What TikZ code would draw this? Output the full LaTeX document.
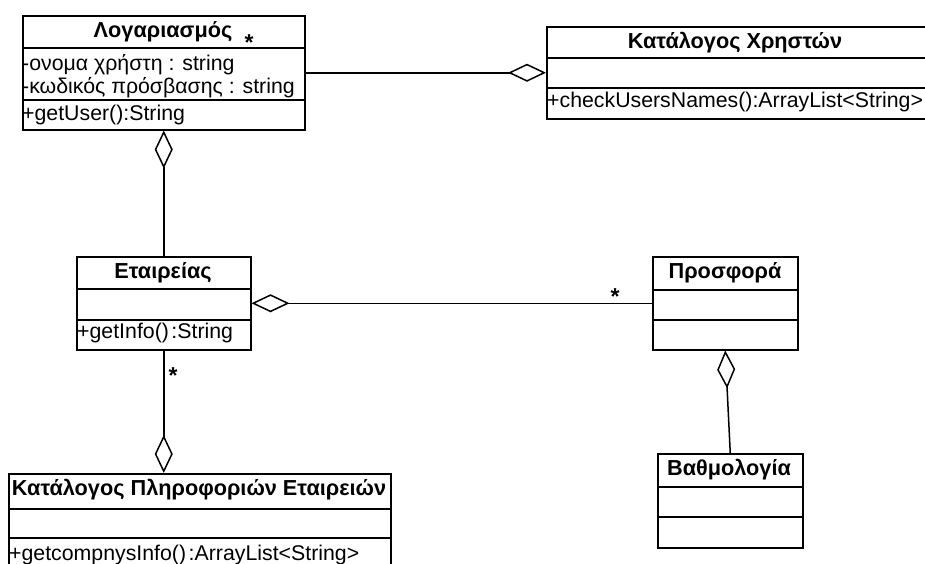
\documentclass[tikz,border=0pt]{standalone}
\usepackage{fontspec}
\setmainfont{Liberation Sans}
\usetikzlibrary{arrows.meta}
\begin{document}
\begin{tikzpicture}[x=1pt,y=-1pt,
  umlbox/.style={draw, line width=1.5pt, anchor=north west, inner sep=0pt},
  ttl/.style={font=\fontsize{21.7}{25}\selectfont\bfseries, inner sep=0pt, anchor=base},
  mem/.style={font=\fontsize{21.3}{24}\selectfont, inner sep=0pt, anchor=base west},
  mult/.style={font=\fontsize{23}{26}\selectfont\bfseries, inner sep=0pt, anchor=base},
  sep/.style={line width=1.5pt},
  link/.style={line width=1.5pt},
  agg/.style={-{Diamond[open,length=38pt,width=18pt]}},
  aggr/.style={{Diamond[open,length=38pt,width=18pt]}-}
]
\clip (0,0) rectangle (925,563);
\fill[white] (0,0) rectangle (925,563);

% Class: account
\node[umlbox, minimum width=282pt, minimum height=114pt] (acc) at (22,15) {};
\draw[sep] (22,48) -- (304,48);
\draw[sep] (22,100) -- (304,100);
\node[ttl] (accT) at (163,37) {Λογαριασμός};
\node[mem] (accA1) at (22,70) {-ονομα χρήστη : string};
\node[mem] (accA2) at (22,93) {-κωδικός πρόσβασης : string};
\node[mem] (accM1) at (22,120) {+getUser():String};

% Class: user catalogue
\node[umlbox, minimum width=380pt, minimum height=92pt] (users) at (546,26) {};
\draw[sep] (546,58) -- (926,58);
\draw[sep] (546,88) -- (926,88);
\node[ttl] (usersT) at (735,48) {Κατάλογος Χρηστών};
\node[mem] (usersM1) at (547,107) {+checkUsersNames():ArrayList<String>};

% Class: companies
\node[umlbox, minimum width=174pt, minimum height=93pt] (comp) at (76,256) {};
\draw[sep] (76,289) -- (250,289);
\draw[sep] (76,320) -- (250,320);
\node[ttl] (compT) at (163,278) {Εταιρείας};
\node[mem] (compM1) at (77,338) {+getInfo()\hspace{0.12em}:String};

% Class: offer
\node[umlbox, minimum width=145pt, minimum height=93pt] (offer) at (652,256) {};
\draw[sep] (652,290) -- (797,290);
\draw[sep] (652,320) -- (797,320);
\node[ttl] (offerT) at (725,278) {Προσφορά};

% Class: company information catalogue
\node[umlbox, minimum width=382pt, minimum height=100pt] (info) at (8,473) {};
\draw[sep] (8,509) -- (390,509);
\draw[sep] (8,538) -- (390,538);
\node[ttl] (infoT) at (199,495) {Κατάλογος Πληροφοριών Εταιρειών};
\node[mem] (infoM1) at (9,560) {+getcompnysInfo()\hspace{0.12em}:ArrayList<String>};

% Class: rating
\node[umlbox, minimum width=145pt, minimum height=94pt] (grade) at (657,453) {};
\draw[sep] (657,487) -- (802,487);
\draw[sep] (657,517) -- (802,517);
\node[ttl] (gradeT) at (729,475) {Βαθμολογία};

% Aggregations
\draw[link, agg] (acc.east) -- (users.west);
\draw[link, aggr] (acc.south) -- (comp.north);
\draw[link, aggr] (comp.east) -- (offer.west);
\draw[link, agg] (comp.south) -- (comp.south |- info.north);
\draw[link, aggr] (offer.south) -- (grade.north);

% Multiplicities
\node[mult] (m1) at (249,50) {*};
\node[mult] (m2) at (615,304) {*};
\node[mult] (m3) at (173,383) {*};
\end{tikzpicture}
\end{document}
